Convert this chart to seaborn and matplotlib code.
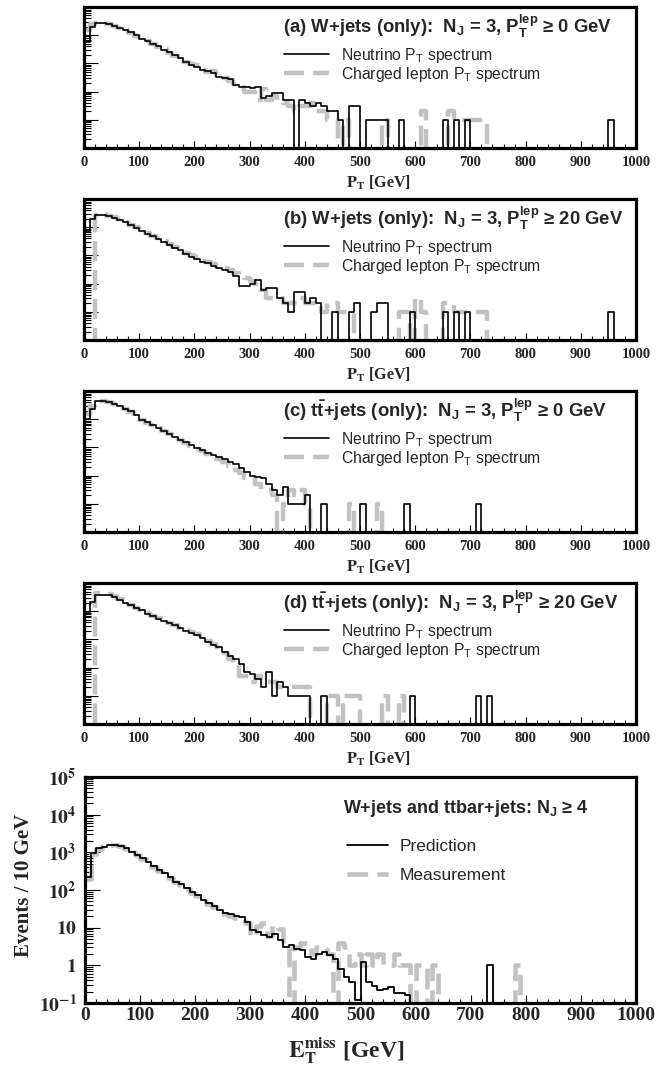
import matplotlib
matplotlib.use("Agg")
import matplotlib.pyplot as plt
import seaborn as sns
import numpy as np
import pandas as pd
from matplotlib.lines import Line2D
from matplotlib.ticker import MultipleLocator, LogLocator, NullFormatter, FixedLocator

sns.set_theme(style="white")
plt.rcParams["font.family"] = ["Liberation Sans", "DejaVu Sans"]
plt.rcParams["mathtext.fontset"] = "custom"
plt.rcParams["mathtext.rm"] = "Liberation Sans"
plt.rcParams["mathtext.it"] = "Liberation Sans"
plt.rcParams["mathtext.bf"] = "Liberation Sans:bold"

# 10 GeV bins from 0 to 1000 GeV; each list holds counts per bin, trailing zeros omitted
bin_edges = np.arange(0, 1001, 10)

nu_a = [560, 1900, 2600, 2600, 2400, 2150, 1850, 1500, 1250, 980,
        760, 620, 480, 400, 300, 250, 190, 150, 115, 88,
        75, 58, 52, 45, 34, 30, 27, 17, 14, 14,
        13, 15, 6, 7, 9, 9, 5, 5, 0, 5,
        4, 3, 4, 3, 2, 2, 1, 0, 3, 3,
        0, 1, 1, 1, 1, 0, 0, 1, 0, 0,
        0, 0, 0, 0, 0, 1, 0, 1, 0, 1,
        0, 0, 0, 0, 0, 0, 0, 0, 0, 0,
        0, 0, 0, 0, 0, 0, 0, 0, 0, 0,
        0, 0, 0, 0, 0, 1]
lep_a = [1500, 2400, 2700, 2600, 2400, 2100, 1800, 1500, 1200, 960,
         750, 600, 490, 390, 310, 240, 185, 145, 115, 95,
         85, 70, 50, 52, 40, 30, 24, 18, 14, 10,
         10, 5, 12, 5, 7, 5, 4, 3, 2, 3,
         3, 4, 2, 2, 1, 1, 0, 1, 0, 0,
         0, 0, 0, 0, 1, 0, 0, 0, 0, 0,
         0, 2, 0, 0, 0, 0, 2, 1, 1, 1,
         1, 1, 1]

nu_b = [700, 2000, 2800, 2700, 2500, 2200, 1800, 1500, 1200, 950,
        720, 580, 470, 370, 300, 240, 180, 150, 110, 85,
        75, 60, 55, 42, 35, 30, 26, 18, 8, 8,
        10, 14, 6, 7, 7, 3, 2, 1, 5, 5,
        2, 3, 2, 0, 0, 1, 0, 0, 1, 2,
        0, 0, 1, 2, 2, 0, 0, 0, 0, 1,
        0, 0, 0, 0, 0, 1, 0, 1, 0, 1,
        0, 0, 0, 0, 0, 0, 0, 0, 0, 0,
        0, 0, 0, 0, 0, 0, 0, 0, 0, 0,
        0, 0, 0, 0, 0, 1]
lep_b = [0, 0, 2800, 2900, 2600, 2300, 1900, 1550, 1250, 1000,
         780, 640, 500, 410, 330, 260, 200, 160, 125, 100,
         85, 72, 60, 50, 44, 36, 30, 24, 20, 16,
         12, 10, 6, 3, 3, 3, 2, 2, 2, 3,
         2, 2, 2, 1, 2, 2, 1, 1, 1, 0,
         0, 0, 0, 0, 0, 0, 0, 1, 1, 0,
         3, 1, 0, 0, 0, 2, 2, 1, 1, 1,
         1, 1, 1]

nu_c = [1000, 2400, 4300, 4400, 4100, 3600, 3000, 2400, 1900, 1400,
        950, 780, 620, 490, 390, 300, 240, 185, 150, 120,
        95, 80, 62, 55, 45, 38, 30, 25, 18, 14,
        10, 9, 8, 5, 3, 2, 4, 1, 1, 1,
        2, 0, 0, 1, 0, 0, 0, 0, 0, 0,
        1, 0, 0, 0, 0, 0, 0, 0, 1, 0,
        0, 0, 0, 0, 0, 0, 0, 0, 0, 0,
        0, 1]
lep_c = [1500, 3000, 4500, 4400, 4000, 3500, 2900, 2300, 1800, 1350,
         920, 750, 600, 470, 370, 290, 230, 180, 140, 110,
         90, 72, 58, 50, 40, 30, 22, 16, 12, 8,
         9, 5, 3, 3, 2, 0, 1, 3, 2, 3,
         1, 0, 0, 0, 0, 0, 0, 0, 1, 0,
         0, 0, 0, 1]

nu_d = [950, 2150, 3700, 3900, 3900, 3200, 2500, 2000, 1630, 1300,
        1070, 820, 680, 550, 440, 380, 320, 250, 200, 170,
        140, 110, 80, 65, 53, 35, 25, 20, 14, 7,
        6, 4, 2, 7, 1, 3, 2, 1, 1, 1,
        1, 0, 0, 1, 0, 0, 0, 0, 0, 0,
        0, 0, 0, 0, 0, 0, 0, 0, 0, 1,
        0, 0, 0, 0, 0, 0, 0, 0, 0, 0,
        0, 1, 0, 1]
lep_d = [0, 0, 4300, 4400, 4100, 3500, 2700, 2100, 1700, 1350,
         1100, 850, 700, 560, 450, 390, 330, 260, 210, 180,
         150, 115, 85, 68, 55, 32, 20, 13, 5, 5,
         3, 5, 3, 3, 3, 2, 2, 2, 2, 2,
         2, 0, 0, 0, 1, 1, 0, 1, 1, 1,
         0, 0, 0, 0, 1, 0, 0, 1]

pred_e = [220, 950, 1300, 1420, 1600, 1600, 1500, 1300, 1050, 860,
          700, 570, 440, 340, 280, 225, 165, 145, 110, 90,
          73, 56, 46, 38, 30, 25, 23, 20, 19.5, 14,
          8.5, 7.7, 6.3, 5.7, 7, 4.6, 3.1, 3.4, 2.8, 2.5,
          1.7, 1.5, 2.0, 2.3, 1.85, 1.5, 0.8, 0.49, 0.36, 0.12,
          1.2, 0.36, 0.29, 0.22, 0.24, 0.26, 0.18, 0.19, 0.16, 0,
          0, 0, 0, 0, 0, 0, 0, 0, 0, 0,
          0, 0, 0, 1]
meas_e = [200, 900, 1250, 1450, 1550, 1550, 1450, 1250, 1000, 830,
          680, 560, 420, 330, 270, 210, 160, 140, 105, 85,
          70, 52, 42, 36, 27, 23, 21, 18, 17, 13,
          6, 11, 13, 6, 12, 9, 3, 0, 3, 4,
          4, 2, 3, 3, 2, 0, 4, 3, 1, 2,
          1, 2, 1, 2, 1, 1, 2, 1, 1, 0,
          1, 1, 0, 1, 0, 0, 0, 0, 0, 0,
          0, 0, 0, 0, 0, 0, 0, 0, 1]

panel_titles = [
    r"(a) W+jets (only):  $\mathbf{N_J}$ = 3, $\mathbf{P_T^{lep}}$ ≥ 0 GeV",
    r"(b) W+jets (only):  $\mathbf{N_J}$ = 3, $\mathbf{P_T^{lep}}$ ≥ 20 GeV",
    r"(c) $\mathbf{t\bar{t}}$+jets (only):  $\mathbf{N_J}$ = 3, $\mathbf{P_T^{lep}}$ ≥ 0 GeV",
    r"(d) $\mathbf{t\bar{t}}$+jets (only):  $\mathbf{N_J}$ = 3, $\mathbf{P_T^{lep}}$ ≥ 20 GeV",
]
small_labels = [r"Neutrino P$_T$ spectrum", r"Charged lepton P$_T$ spectrum"]
big_title = r"W+jets and ttbar+jets: $\mathbf{N_J}$ ≥ 4"
big_labels = ["Prediction", "Measurement"]
x_ticks = list(range(0, 1001, 100))
y_ticks_small = [0.1, 1, 10, 100, 1000, 10000]
y_ticks_e = [0.1, 1, 10, 100, 1000, 10000, 100000]
y_ticklabels_e = [r"$\mathbf{10^{-1}}$", r"$\mathbf{1}$", r"$\mathbf{10}$", r"$\mathbf{10^{2}}$",
                  r"$\mathbf{10^{3}}$", r"$\mathbf{10^{4}}$", r"$\mathbf{10^{5}}$"]

GREY = "#c2c2c2"
DASH = (0, (4.5, 2.0))
serif = dict(family="Liberation Serif", weight="bold", math_fontfamily="stix")


def to_frame(vals):
    counts = np.zeros(len(bin_edges) - 1)
    counts[:len(vals)] = vals
    return pd.DataFrame({"pt": bin_edges[:-1] + 5.0, "w": counts})


def draw_hists(ax, solid, dashed, lw_grey=3.2, lw_black=1.2):
    sns.histplot(data=to_frame(dashed), x="pt", weights="w", bins=list(bin_edges),
                 element="step", fill=False, color=GREY, linewidth=lw_grey,
                 linestyle=DASH, ax=ax)
    sns.histplot(data=to_frame(solid), x="pt", weights="w", bins=list(bin_edges),
                 element="step", fill=False, color="black", linewidth=lw_black, ax=ax)
    ax.set_yscale("log")
    ax.set_xlim(0, 1000)
    ax.xaxis.set_major_locator(FixedLocator(x_ticks))
    ax.xaxis.set_minor_locator(MultipleLocator(20))
    for s in ax.spines.values():
        s.set_linewidth(2.3)
        s.set_color("black")
    ax.tick_params(which="both", direction="in", bottom=True, left=True, top=False,
                   right=False, color="black", width=0.8)


def log_ticks(ax, decades):
    ax.yaxis.set_major_locator(FixedLocator(decades))
    ax.yaxis.set_minor_locator(LogLocator(base=10, subs=np.arange(2, 10), numticks=100))
    ax.yaxis.set_minor_formatter(NullFormatter())


fig = plt.figure(figsize=(6.63, 10.69), dpi=100)
L, W = 0.1267, 0.8326
small_bottoms = [0.8616, 0.6819, 0.5023, 0.3227]
H = 0.1319
series = [(nu_a, lep_a), (nu_b, lep_b), (nu_c, lep_c), (nu_d, lep_d)]

for bottom, (nu, lep), title in zip(small_bottoms, series, panel_titles):
    ax = fig.add_axes([L, bottom, W, H])
    draw_hists(ax, nu, lep)
    ax.set_ylim(0.1, 1e4)
    log_ticks(ax, y_ticks_small)
    ax.tick_params(axis="y", which="major", length=10, labelleft=False)
    ax.tick_params(axis="y", which="minor", length=5)
    ax.tick_params(axis="x", which="major", length=5, pad=6)
    ax.tick_params(axis="x", which="minor", length=3)
    ax.set_xticks(x_ticks, [str(t) for t in x_ticks], fontsize=10.5, **serif)
    ax.set_ylabel("")
    ax.set_xlabel(r"$\mathbf{P_T}$ [GeV]", fontsize=11.5, **serif)
    ax.xaxis.set_label_coords(0.533, -0.245)
    ax.xaxis.label.set_va("center")
    ax.text(0.36, 0.862, title, transform=ax.transAxes, fontsize=13.3, fontweight="bold",
            ha="left", va="center")
    handles = [Line2D([], [], color="black", lw=1.2),
               Line2D([], [], color=GREY, lw=3.2, ls=DASH)]
    ax.legend(handles, small_labels, loc="upper left", bbox_to_anchor=(0.362, 0.725),
              frameon=False, fontsize=11.3, handlelength=2.9, handletextpad=0.75,
              labelspacing=0.0, borderpad=0, borderaxespad=0)

ax = fig.add_axes([0.1282, 0.0617, 0.8311, 0.2114])
draw_hists(ax, pred_e, meas_e, lw_grey=3.3, lw_black=1.3)
ax.set_ylim(0.1, 1e5)
log_ticks(ax, y_ticks_e)
ax.set_yticks(y_ticks_e, y_ticklabels_e, fontsize=14, **serif)
ax.tick_params(axis="y", which="major", length=11, pad=6)
ax.tick_params(axis="y", which="minor", length=6)
ax.tick_params(axis="x", which="major", length=6, pad=3)
ax.tick_params(axis="x", which="minor", length=3)
ax.set_xticks(x_ticks, [str(t) for t in x_ticks], fontsize=14, **serif)
ax.set_ylabel("Events / 10 GeV", fontsize=15, **serif)
ax.yaxis.set_label_coords(-0.092, 0.52)
ax.set_xlabel(r"$\mathbf{E_T^{miss}}$ [GeV]", fontsize=17, **serif)
ax.xaxis.set_label_coords(0.474, -0.21)
ax.xaxis.label.set_va("center")
ax.text(0.468, 0.86, big_title, transform=ax.transAxes, fontsize=13, fontweight="bold",
        ha="left", va="center")
handles = [Line2D([], [], color="black", lw=1.3),
           Line2D([], [], color=GREY, lw=3.3, ls=DASH)]
ax.legend(handles, big_labels, loc="upper left", bbox_to_anchor=(0.475, 0.725),
          frameon=False, fontsize=12.5, handlelength=2.4, handletextpad=0.65,
          labelspacing=0.8, borderpad=0, borderaxespad=0)

fig.savefig("out.png", dpi=100)
